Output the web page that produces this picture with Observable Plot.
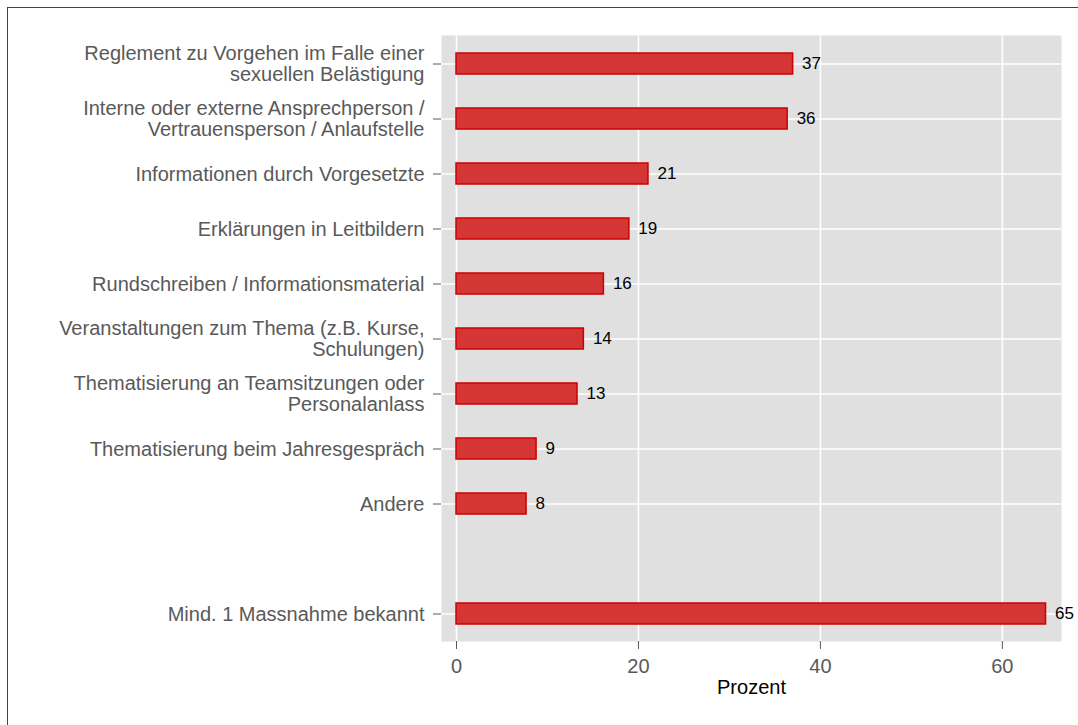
<!DOCTYPE html>
<html>
<head>
<meta charset="utf-8">
<script src="https://cdn.jsdelivr.net/npm/d3@7"></script>
<script src="https://cdn.jsdelivr.net/npm/@observablehq/plot@0.6"></script>
<style>
  html, body { margin: 0; padding: 0; background: #fff; }
  #wrap { position: relative; width: 1078px; height: 725px; overflow: hidden; }
  #frame { position: absolute; left: 7px; top: 7px; width: 1200px; height: 900px;
           border-left: 1px solid #444; border-top: 1px solid #444; box-sizing: border-box; }
  #chart { position: absolute; left: 0; top: 0; }
  svg { font-family: "Liberation Sans", Arial, sans-serif; }
</style>
</head>
<body>
<div id="wrap"><div id="frame"></div><div id="chart"></div></div>
<script>
const categories = [
  "Reglement zu Vorgehen im Falle einer\nsexuellen Belästigung",
  "Interne oder externe Ansprechperson /\nVertrauensperson / Anlaufstelle",
  "Informationen durch Vorgesetzte",
  "Erklärungen in Leitbildern",
  "Rundschreiben / Informationsmaterial",
  "Veranstaltungen zum Thema (z.B. Kurse,\nSchulungen)",
  "Thematisierung an Teamsitzungen oder\nPersonalanlass",
  "Thematisierung beim Jahresgespräch",
  "Andere",
  " ",
  "Mind. 1 Massnahme bekannt"
];
const values = [37.0, 36.4, 21.1, 19.0, 16.2, 14.0, 13.3, 8.8, 7.7, null, 64.8];
const labels = ["37", "36", "21", "19", "16", "14", "13", "9", "8", null, "65"];
const xTicks = [0, 20, 40, 60];

const data = categories.map((c, i) => ({cat: c, value: values[i], label: labels[i]}))
  .filter(d => d.value != null);
const shownCats = categories.filter(c => c.trim() !== "");

const chart = Plot.plot({
  width: 1078,
  height: 725,
  marginLeft: 441,
  marginRight: 17,
  marginTop: 35,
  marginBottom: 84,
  style: {fontFamily: "'Liberation Sans', Arial, sans-serif", background: "transparent"},
  x: {domain: [-1.65, 66.5]},
  y: {domain: categories, padding: 0},
  marks: [
    Plot.frame({fill: "#e0e0e0", stroke: null}),
    Plot.gridX(xTicks, {stroke: "white", strokeOpacity: 1, strokeWidth: 1.6}),
    Plot.gridY(shownCats, {stroke: "white", strokeOpacity: 1, strokeWidth: 1.6}),
    Plot.barX(data, {x1: 0, x2: "value", y: "cat", fill: "#d43535", stroke: "#cc0000",
      strokeWidth: 1.5, insetTop: 17, insetBottom: 17}),
    Plot.text(data, {x: "value", y: "cat", text: "label", textAnchor: "start", dx: 9,
      fill: "black", fontSize: 17}),
    Plot.axisY(shownCats, {tickSize: 8, tickPadding: 9, fontSize: 20, lineHeight: 1.05,
      color: "#595959", stroke: "#595959", label: null}),
    Plot.axisX(xTicks, {tickSize: 8, tickPadding: 9, fontSize: 20, color: "#595959",
      stroke: "#595959", label: null}),
    Plot.text(["Prozent"], {frameAnchor: "bottom", dy: 52, fontSize: 20, fill: "black"})
  ]
});
document.getElementById("chart").appendChild(chart);
</script>
</body>
</html>
